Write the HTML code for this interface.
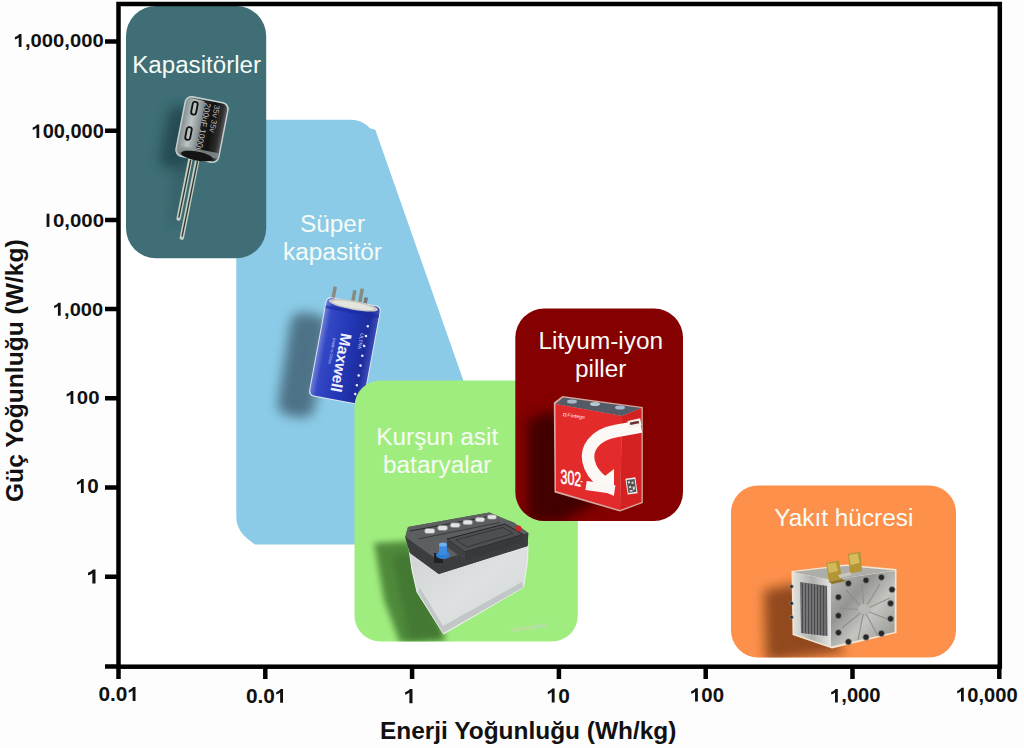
<!DOCTYPE html>
<html><head><meta charset="utf-8">
<style>
html,body{margin:0;padding:0;background:#fdfdfd;}
body{width:1024px;height:748px;overflow:hidden;position:relative;font-family:"Liberation Sans",sans-serif;}
svg{position:absolute;left:0;top:0;}
.ax{font-family:"Liberation Sans",sans-serif;font-weight:bold;font-size:18px;fill:#111;}
.axx{font-family:"Liberation Sans",sans-serif;font-weight:bold;font-size:19.5px;fill:#111;}
.num{font-family:"Liberation Sans",sans-serif;font-weight:bold;fill:#111;}
.lbl{font-family:"Liberation Sans",sans-serif;font-size:23px;fill:#f6fbf6;}
</style></head>
<body>
<svg width="1024" height="748" viewBox="0 0 1024 748">
<defs>
<filter id="blur6" x="-50%" y="-50%" width="200%" height="200%"><feGaussianBlur stdDeviation="6"/></filter>
<filter id="blur3" x="-50%" y="-50%" width="200%" height="200%"><feGaussianBlur stdDeviation="3"/></filter>
<linearGradient id="capbody" x1="0" y1="0" x2="1" y2="0">
<stop offset="0" stop-color="#8d9494"/><stop offset="0.45" stop-color="#1e1e1e"/><stop offset="0.7" stop-color="#121212"/><stop offset="0.9" stop-color="#2e2e2e"/><stop offset="1" stop-color="#5a5a5a"/>
</linearGradient>
<linearGradient id="capstripe" x1="0" y1="0" x2="1" y2="0">
<stop offset="0" stop-color="#8c9696"/><stop offset="0.45" stop-color="#bcc4c4"/><stop offset="1" stop-color="#7f8888"/>
</linearGradient>
<linearGradient id="scbody" x1="0" y1="0" x2="1" y2="0">
<stop offset="0" stop-color="#6d7fd8"/><stop offset="0.12" stop-color="#3447c4"/><stop offset="0.5" stop-color="#2338b8"/><stop offset="0.85" stop-color="#1d2c9c"/><stop offset="1" stop-color="#3a4cb8"/>
</linearGradient>
<linearGradient id="battbody" x1="0" y1="0" x2="1" y2="1">
<stop offset="0" stop-color="#cfd3d3"/><stop offset="0.5" stop-color="#dde1e1"/><stop offset="1" stop-color="#d0d4d4"/>
</linearGradient>
<linearGradient id="fcleft" x1="0" y1="0" x2="1" y2="0">
<stop offset="0" stop-color="#e0e0de"/><stop offset="0.5" stop-color="#b0b0ad"/><stop offset="1" stop-color="#e4e4e2"/>
</linearGradient>
<linearGradient id="fcstack" x1="0" y1="0" x2="1" y2="0">
<stop offset="0" stop-color="#707072"/><stop offset="1" stop-color="#5a5a5c"/>
</linearGradient>
<linearGradient id="fcplate" x1="0" y1="0" x2="1" y2="1">
<stop offset="0" stop-color="#bcbcb8"/><stop offset="0.35" stop-color="#959591"/><stop offset="0.6" stop-color="#c4c4c0"/><stop offset="1" stop-color="#8e8e8a"/>
</linearGradient>
</defs>
<!-- plot background -->
<rect x="118" y="4" width="882" height="663" fill="#ffffff"/>

<!-- blue supercapacitor region -->
<path d="M262,119.8 L351,119.8 C360,119.8 366,124 370,128.3 L375.3,129.8 L521,544.5 L255,544.5 C245,537.5 236.3,530 236.3,517 L236.3,145 Q236.5,119.8 262,119.8 Z" fill="#8bcbe7"/>

<!-- supercapacitor -->
<g id="scap">
<rect x="-18" y="-52" width="37" height="104" rx="12" fill="#46697d" opacity="0.9" filter="url(#blur6)" transform="translate(302,365) rotate(9)"/>
<g transform="translate(345,350.5) rotate(10.5)">
<!-- pins -->
<rect x="-23" y="-61" width="3.5" height="15" fill="#8a8a80"/>
<rect x="-3" y="-61" width="3.5" height="15" fill="#8a8a80"/>
<rect x="4" y="-64" width="3.5" height="18" fill="#8a8a80"/>
<rect x="9.5" y="-56" width="3.5" height="10" fill="#777"/>
<rect x="-28" y="-50" width="56" height="101" rx="5" fill="#dfe6f0"/>
<rect x="-27" y="-49" width="54" height="99" rx="4.5" fill="url(#scbody)"/>
<ellipse cx="0" cy="-46" rx="25" ry="4.5" fill="#c9c9c2"/>
<ellipse cx="0" cy="-46" rx="21" ry="3" fill="#e4e4de"/>
<rect x="-27" y="-41" width="54" height="3" fill="#1a2aa0" opacity="0.6"/>
<text transform="translate(-7,-17) rotate(90)" style="font-family:'Liberation Sans',sans-serif;font-weight:bold;font-size:15.5px;fill:#eef0ff">Maxwell</text>
<text transform="translate(-14,-10) rotate(90)" style="font-family:'Liberation Sans',sans-serif;font-size:4px;fill:#c0c8ff">Made in China</text>
<text transform="translate(12,-20) rotate(90)" style="font-family:'Liberation Sans',sans-serif;font-size:5px;fill:#c8d0ff">ULTRA</text>
<g fill="#e8ecff">
<circle cx="18" cy="-28" r="1.3"/><circle cx="18" cy="-18" r="1.3"/><circle cx="18" cy="-8" r="1.3"/><circle cx="18" cy="2" r="1.3"/><circle cx="18" cy="12" r="1.3"/><circle cx="18" cy="22" r="1.3"/><circle cx="18" cy="32" r="1.3"/><circle cx="18" cy="41" r="1.3"/>
</g>
</g>
</g>

<!-- teal capacitor box -->
<rect x="126" y="6" width="140.2" height="252.3" rx="30" ry="30" fill="#3f6e76"/>

<!-- electrolytic capacitor -->
<g id="ecap">
<rect x="-15" y="-30" width="30" height="62" rx="8" fill="#1f3f46" opacity="0.75" filter="url(#blur6)" transform="translate(179,137) rotate(11)"/>
<path d="M176,165 L186,165 L178,225 L170,222 Z" fill="#2a4d55" opacity="0.5" filter="url(#blur6)"/>
<!-- leads -->
<path d="M190.7,158 L178.6,218.6" stroke="#c5cfc2" stroke-width="4.4" stroke-linecap="round"/>
<path d="M197.5,159 L181.8,237.7" stroke="#c5cfc2" stroke-width="4.4" stroke-linecap="round"/>
<path d="M190.7,160 L178.8,217.6" stroke="#2f3534" stroke-width="1.3"/>
<path d="M197.5,161 L182,236.7" stroke="#2f3534" stroke-width="1.3"/>
<g transform="translate(202,129.5) rotate(11)">
<rect x="-22.5" y="-31" width="45" height="62" rx="7" fill="#c3cfcf"/>
<rect x="-21" y="-29.5" width="42" height="59" rx="6" fill="url(#capbody)"/>
<rect x="-20" y="-28.5" width="18" height="51" rx="3" fill="url(#capstripe)"/>
<rect x="-14" y="-26" width="5" height="13" rx="2.5" fill="none" stroke="#111" stroke-width="1.8"/>
<rect x="-15" y="0" width="5" height="13" rx="2.5" fill="none" stroke="#111" stroke-width="1.8"/>
<text transform="translate(-2,-27) rotate(90)" style="font-family:'Liberation Sans',sans-serif;font-size:8.5px;fill:#c4c4c4">200uF 1000uF</text>
<text transform="translate(7.5,-27) rotate(90)" style="font-family:'Liberation Sans',sans-serif;font-size:8px;fill:#b4b4b4">35v    35v</text>
<rect x="-21" y="20" width="42" height="6" fill="#8d9595" opacity="0.8"/>
<ellipse cx="0" cy="27" rx="16" ry="4.5" fill="#141414"/>
</g>
</g>

<!-- green lead acid -->
<rect x="354.5" y="380.5" width="223.3" height="261" rx="26" ry="26" fill="#a0ed7f"/>

<!-- battery -->
<g id="batt">
<clipPath id="gclip"><rect x="354.5" y="380.5" width="223.3" height="261" rx="26" ry="26"/></clipPath>
<g clip-path="url(#gclip)">
<path d="M374,543 L410,541 L446,641 L400,643 L384,600 Z" fill="#4f8a3a" filter="url(#blur3)"/>
<path d="M392,556 L412,552 L442,636 L410,640 Z" fill="#3f7230" opacity="0.7" filter="url(#blur3)"/>
</g>
<path d="M409,548 L439,571 L528,544 L527.6,560 L523.5,587.3 L443.5,634 L417,592 L412,570 Z" fill="url(#battbody)" stroke="#eef2ee" stroke-width="1"/>
<path d="M418,592 L443,633 L523.5,587.3 L522,582 L443,626 L420,588 Z" fill="#b8bcbc" opacity="0.7"/>
<!-- lid -->
<path d="M405.3,537 L408,527 L489.3,512.5 L514,522.8 L528.3,533 L527.6,546 L438.8,574 L410,553 Z" fill="#4b4d4e"/>
<path d="M408,527 L489.3,512.5 L514,522.8 L528.3,533 L438.8,561 L405.3,537 Z" fill="#5c5e60"/>
<path d="M405.3,537 L438.8,561 L528.3,533 L527.6,546 L438.8,574 L410,553 Z" fill="#3b3d3e"/>
<!-- raised panel -->
<path d="M447,539 L505,524 L523,534.5 L465,552 Z" fill="#4e4f51" stroke="#252627" stroke-width="1"/>
<path d="M465,552 L523,534.5 L523,542 L465,560 Z" fill="#38393a"/>
<path d="M447,539 L465,552 L465,560 L447,547 Z" fill="#404143"/>
<path d="M456,540 L503,527.5 L513,533.5 L467,547 Z" fill="none" stroke="#2e2f30" stroke-width="0.8"/>
<!-- caps -->
<path d="M410,531 L489,516.5" stroke="#2a2b2c" stroke-width="1.2" fill="none"/>
<path d="M418,539 L500,522.5" stroke="#3a3b3c" stroke-width="1" fill="none"/>
<g fill="#e2e4e4" stroke="#7d7f7f" stroke-width="0.6">
<rect x="424.5" y="528.5" width="10.5" height="5" rx="2.5"/>
<rect x="437.5" y="525.6" width="10.2" height="4.9" rx="2.4"/>
<rect x="450.2" y="522.8" width="10" height="4.8" rx="2.4"/>
<rect x="462.8" y="520" width="9.8" height="4.7" rx="2.3"/>
<rect x="475.2" y="517.3" width="9.6" height="4.6" rx="2.3"/>
<rect x="487.2" y="514.8" width="9.4" height="4.5" rx="2.2"/>
</g>
<!-- red terminal -->
<circle cx="518.5" cy="528.5" r="3" fill="#c62828"/>
<!-- blue cap -->
<rect x="434" y="553" width="9" height="10" fill="#1f2224"/>
<ellipse cx="443" cy="555" rx="7" ry="4" fill="#2f7fd6"/>
<rect x="439" y="544" width="8" height="11" rx="2" fill="#3d8be0"/>
<ellipse cx="443" cy="544.5" rx="4" ry="2" fill="#6fb0f0"/>
<text x="511" y="631" style="font-family:'Liberation Sans',sans-serif;font-size:7px;fill:#c4d8c0" transform="rotate(-8 520 628)">dreamstime</text>
</g>

<!-- red li-ion -->
<rect x="515.3" y="308.5" width="167.7" height="212.5" rx="29" ry="29" fill="#840001"/>

<!-- li-ion cell -->
<g id="liion">
<clipPath id="rclip"><rect x="515.3" y="308.5" width="167.7" height="212.5" rx="29" ry="29"/></clipPath>
<g clip-path="url(#rclip)">
<path d="M528,420 L556,410 L600,500 L560,522 L528,522 Z" fill="#3a0000" opacity="0.9" filter="url(#blur6)"/>
</g>
<!-- halo -->
<path d="M553.8,402.5 L562.5,396 L642.8,407 L642.8,503 L620,511.5 L554.5,492.5 Z" fill="#d8a8a0"/>
<!-- top face -->
<path d="M555.5,404 L563,397.5 L641.5,408 L622,416 Z" fill="#545a66"/>
<ellipse cx="572" cy="401.5" rx="5" ry="2" fill="#a8b8cc"/>
<ellipse cx="595" cy="404" rx="5" ry="2" fill="#b8c8d0"/>
<ellipse cx="620" cy="407.5" rx="5" ry="2" fill="#a8b8cc"/>
<!-- front face -->
<path d="M555.5,404 L622,416 L620,510 L556,491 Z" fill="#e32b2b"/>
<!-- side face -->
<path d="M622,416 L641.5,408 L641.5,502 L620,510 Z" fill="#d42222"/>
<!-- arrow -->
<path d="M641,426.5 L616,431 C593,435 586,450 588.5,461 C590.5,471 596,477 603,482" fill="none" stroke="#fbf8f6" stroke-width="12.5"/>
<path d="M592,486 L614,496 L614,469 Z" fill="#fbf8f6"/>
<rect x="628" y="419.5" width="13" height="7" fill="#f4f0ee" transform="rotate(-12 635 423)"/><rect x="630" y="421.5" width="9" height="2.5" fill="#6a3030" transform="rotate(-12 635 423)"/>
<rect x="586" y="483" width="29" height="9" fill="#faf6f4" transform="rotate(8 600 487)"/>
<text transform="translate(560.5,483.2) skewY(9) scale(0.62,1)" style="font-family:'Liberation Sans',sans-serif;font-size:20px;fill:#fff;stroke:#fff;stroke-width:0.6">302</text>
<rect x="580.5" y="481" width="2" height="1.2" fill="#fff"/>
<text x="563" y="416" transform="rotate(8 563 416)" style="font-family:'Liberation Sans',sans-serif;font-size:5px;fill:#fff">◘ Fortego</text>
<rect x="626.5" y="478" width="10" height="16" fill="#f0eeee" transform="rotate(-8 631 486)"/>
<rect x="627.5" y="479.5" width="8" height="13" fill="#555" transform="rotate(-8 631 486)"/>
<path d="M628.5,481h2v2h-2zM632,482h2v2h-2zM629,486h2v2h-2zM632.5,487h2v3h-2zM629,490h3v1.5h-3z" fill="#ddd" transform="rotate(-8 631 486)"/>
</g>

<!-- orange fuel cell -->
<rect x="731" y="485.5" width="225" height="172" rx="27" ry="27" fill="#fd914c"/>

<!-- fuel cell -->
<g id="fuel">
<clipPath id="oclip"><rect x="731" y="485.5" width="226" height="172" rx="27" ry="27"/></clipPath>
<g clip-path="url(#oclip)">
<path d="M764,590 L800,583 L845,652 L766,662 Z" fill="#7e3c14" opacity="0.85" filter="url(#blur6)"/>
</g>
<!-- halo -->
<path d="M791.5,571 L846,564.5 L896.5,569 L896.5,633 L832,648.5 L792.5,635 Z" fill="#f4e4d0"/>
<!-- top face -->
<path d="M793,572 L846,566 L895,570.5 L831,580 Z" fill="#adadaa"/>
<!-- left face frame -->
<path d="M793.5,572.5 L831,580 L831,646.5 L794,634 Z" fill="url(#fcleft)"/>
<path d="M800,582 L827,586 L827.5,636 L801,633 Z" fill="url(#fcstack)"/>
<g stroke="#464648" stroke-width="0.9">
<path d="M802.5,583 V633 M805.5,583.3 V633.4 M808.5,583.7 V633.8 M811.5,584.1 V634.2 M814.5,584.5 V634.5 M817.5,584.9 V634.9 M820.5,585.2 V635.2 M823.5,585.6 V635.6"/>
</g>
<g stroke="#8e8e90" stroke-width="0.7">
<path d="M804,583.2 V633.2 M807,583.5 V633.6 M810,583.9 V634 M813,584.3 V634.3 M816,584.7 V634.7 M819,585 V635 M822,585.4 V635.4 M825,585.8 V635.8"/>
</g>
<!-- right plate -->
<path d="M831,580 L895,571 L894.5,632 L831,646.5 Z" fill="url(#fcplate)"/>
<g stroke="#8d8d8a" stroke-width="1.2" fill="none" opacity="0.9">
<path d="M864,610 L846,590 M864,610 L862,584 M864,610 L880,584 M864,610 L890,598 M864,610 L890,620 M864,610 L878,636 M864,610 L858,640 M864,610 L842,628 M864,610 L840,608"/>
</g>
<ellipse cx="864" cy="609" rx="6" ry="5" fill="#b8b8b4"/>
<!-- bolts -->
<g fill="#262626" stroke="#9a9a9a" stroke-width="0.7">
<circle cx="848.4" cy="583.4" r="3.1"/><circle cx="866" cy="580.3" r="3.1"/><circle cx="881.4" cy="577.3" r="3.1"/>
<circle cx="892" cy="589.6" r="3.1"/><circle cx="890.6" cy="603.4" r="3.1"/><circle cx="890.6" cy="618.8" r="3.1"/>
<circle cx="848.4" cy="641.8" r="3.1"/><circle cx="866" cy="637.2" r="3.1"/><circle cx="881.4" cy="633.4" r="3.1"/>
<circle cx="838.4" cy="597.2" r="3.1"/><circle cx="838.4" cy="615.7" r="3.1"/><circle cx="838.4" cy="632.6" r="3.1"/>
<circle cx="791.5" cy="586.5" r="1.8"/><circle cx="791.5" cy="603.4" r="1.8"/><circle cx="791.5" cy="617.2" r="1.8"/>
</g>
<!-- gold tabs -->
<path d="M826,563 L839,560.5 L842,579 L829,582 Z" fill="#b39636"/>
<path d="M827,564 L836,562.5 L838,571 L829,573 Z" fill="#d2b858"/>
<path d="M829,582 L842,579 L846,581 L832,584 Z" fill="#8c7428"/>
<path d="M848,554 L860.5,551.5 L862,571 L850,573.5 Z" fill="#b39636"/>
<path d="M849,555 L858,553.5 L859.5,563 L850.5,565 Z" fill="#d6bc5c"/>
<path d="M838,575 L850,572 L852,575 L840,578 Z" fill="#c8c8c0"/>
</g>

<!-- labels -->
<text class="lbl" transform="translate(196.6,72.8) scale(1.05,1)" text-anchor="middle">Kapasitörler</text>
<text class="lbl" transform="translate(332.5,231.5) scale(1.06,1)" text-anchor="middle">Süper</text>
<text class="lbl" transform="translate(332.5,259.7) scale(1.06,1)" text-anchor="middle">kapasitör</text>
<text class="lbl" transform="translate(437.2,444.7) scale(1.06,1)" text-anchor="middle">Kurşun asit</text>
<text class="lbl" transform="translate(437.2,473.3) scale(1.06,1)" text-anchor="middle">bataryalar</text>
<text class="lbl" transform="translate(600.7,349.4) scale(1.06,1)" text-anchor="middle">Lityum-iyon</text>
<text class="lbl" transform="translate(600.7,376.7) scale(1.06,1)" text-anchor="middle">piller</text>
<text class="lbl" transform="translate(843.8,526.2) scale(1.06,1)" text-anchor="middle">Yakıt hücresi</text>

<!-- frame -->
<g stroke="#000" stroke-width="4.5" fill="none">
<rect x="118.5" y="4" width="881.3" height="662.7"/>
<path d="M105,666.5H118.5 M105,41.5H118.5 M105,130.7H118.5 M105,219.9H118.5 M105,309.1H118.5 M105,398.3H118.5 M105,487.5H118.5 M105,576.7H118.5"/>
<path d="M118.5,666H118.5V679 M265.3,666V679 M412.1,666V679 M558.9,666V679 M705.7,666V679 M852.5,666V679 M999.3,666V679"/>
</g>

<!-- numeric labels -->
<g class="num">
<text transform="translate(13.72,47.12) scale(1.0679,1)" style="font-size:18.93px"> ,000,000</text>
<path transform="translate(13.72,47.12) scale(0.00987,-0.00924)" d="M789,0 L508,0 L508,1053 C405,957 285,886 120,836 L120,1090 C210,1118 299,1163 385,1230 C471,1297 530,1376 562,1409 L789,1409 Z"/>
<text transform="translate(31.53,137.91) scale(1.0224,1)" style="font-size:19.56px"> 00,000</text>
<path transform="translate(31.53,137.91) scale(0.00977,-0.00955)" d="M789,0 L508,0 L508,1053 C405,957 285,886 120,836 L120,1090 C210,1118 299,1163 385,1230 C471,1297 530,1376 562,1409 L789,1409 Z"/>
<text transform="translate(41.53,226.91) scale(1.0639,1)" style="font-size:19.21px"> 0,000</text>
<path transform="translate(41.53,226.91) scale(0.00998,-0.00938)" d="M789,0 L508,0 L508,1409 L789,1409 Z"/>
<text transform="translate(52.92,315.72) scale(1.0701,1)" style="font-size:18.79px"> ,000</text>
<path transform="translate(52.92,315.72) scale(0.00982,-0.00917)" d="M789,0 L508,0 L508,1053 C405,957 285,886 120,836 L120,1090 C210,1118 299,1163 385,1230 C471,1297 530,1376 562,1409 L789,1409 Z"/>
<text transform="translate(65.50,404.12) scale(1.0777,1)" style="font-size:18.93px"> 00</text>
<path transform="translate(65.50,404.12) scale(0.00996,-0.00924)" d="M789,0 L508,0 L508,1053 C405,957 285,886 120,836 L120,1090 C210,1118 299,1163 385,1230 C471,1297 530,1376 562,1409 L789,1409 Z"/>
<text transform="translate(75.79,493.00) scale(1.0218,1)" style="font-size:20.20px"> 0</text>
<path transform="translate(75.79,493.00) scale(0.01008,-0.00986)" d="M789,0 L508,0 L508,1053 C405,957 285,886 120,836 L120,1090 C210,1118 299,1163 385,1230 C471,1297 530,1376 562,1409 L789,1409 Z"/>
<text transform="translate(86.65,583.60) scale(1.1283,1)" style="font-size:20.35px"> </text>
<path transform="translate(86.65,583.60) scale(0.01121,-0.00994)" d="M789,0 L508,0 L508,1053 C405,957 285,886 120,836 L120,1090 C210,1118 299,1163 385,1230 C471,1297 530,1376 562,1409 L789,1409 Z"/>
<text transform="translate(98.48,701.00) scale(1.0254,1)" style="font-size:20.34px">0.0 </text>
<path transform="translate(127.47,701.00) scale(0.01018,-0.00993)" d="M789,0 L508,0 L508,1053 C405,957 285,886 120,836 L120,1090 C210,1118 299,1163 385,1230 C471,1297 530,1376 562,1409 L789,1409 Z"/>
<text transform="translate(245.98,702.80) scale(1.0398,1)" style="font-size:20.06px">0.0 </text>
<path transform="translate(274.97,702.80) scale(0.01018,-0.00979)" d="M789,0 L508,0 L508,1053 C405,957 285,886 120,836 L120,1090 C210,1118 299,1163 385,1230 C471,1297 530,1376 562,1409 L789,1409 Z"/>
<text transform="translate(403.77,703.30) scale(1.0823,1)" style="font-size:20.93px"> </text>
<path transform="translate(403.77,703.30) scale(0.01106,-0.01022)" d="M789,0 L508,0 L508,1053 C405,957 285,886 120,836 L120,1090 C210,1118 299,1163 385,1230 C471,1297 530,1376 562,1409 L789,1409 Z"/>
<text transform="translate(546.58,702.50) scale(1.0316,1)" style="font-size:20.20px"> 0</text>
<path transform="translate(546.58,702.50) scale(0.01017,-0.00986)" d="M789,0 L508,0 L508,1053 C405,957 285,886 120,836 L120,1090 C210,1118 299,1163 385,1230 C471,1297 530,1376 562,1409 L789,1409 Z"/>
<text transform="translate(690.00,701.61) scale(1.0541,1)" style="font-size:19.35px"> 00</text>
<path transform="translate(690.00,701.61) scale(0.00996,-0.00945)" d="M789,0 L508,0 L508,1053 C405,957 285,886 120,836 L120,1090 C210,1118 299,1163 385,1230 C471,1297 530,1376 562,1409 L789,1409 Z"/>
<text transform="translate(830.01,702.41) scale(1.0377,1)" style="font-size:19.49px"> ,000</text>
<path transform="translate(830.01,702.41) scale(0.00988,-0.00952)" d="M789,0 L508,0 L508,1053 C405,957 285,886 120,836 L120,1090 C210,1118 299,1163 385,1230 C471,1297 530,1376 562,1409 L789,1409 Z"/>
<text transform="translate(956.02,701.51) scale(1.0114,1)" style="font-size:19.92px"> 0,000</text>
<path transform="translate(956.02,701.51) scale(0.00983,-0.00972)" d="M789,0 L508,0 L508,1053 C405,957 285,886 120,836 L120,1090 C210,1118 299,1163 385,1230 C471,1297 530,1376 562,1409 L789,1409 Z"/>
</g>
<!-- end numeric labels -->
<!-- axis titles -->
<text transform="translate(380,739.3) scale(1.063,1)" style="font-family:'Liberation Sans',sans-serif;font-weight:bold;font-size:23px;fill:#111">Enerji Yoğunluğu (Wh/kg)</text>
<text transform="translate(22.5,502) rotate(-90) scale(1.07,1)" style="font-family:'Liberation Sans',sans-serif;font-weight:bold;font-size:23px;fill:#111">Güç Yoğunluğu (W/kg)</text>
</svg>
</body></html>
